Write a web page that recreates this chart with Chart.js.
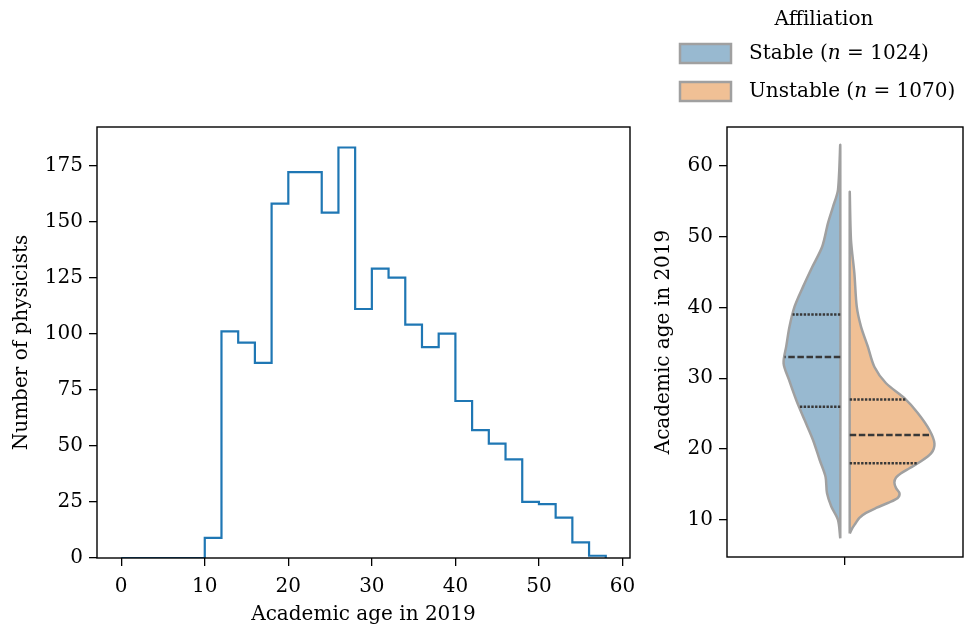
<!DOCTYPE html>
<html>
<head>
<meta charset="utf-8">
<script src="https://cdn.jsdelivr.net/npm/chart.js@4.4.1/dist/chart.umd.min.js"></script>
<style>
  body { margin: 0; background: #fff; }
  #wrap { position: relative; width: 966px; height: 629px; }
  canvas { position: absolute; top: 0; }
  #hist { left: 0; }
  #violin { left: 640px; }
</style>
</head>
<body>
<div id="wrap">
  <canvas id="hist" width="670" height="629"></canvas>
  <canvas id="violin" width="326" height="629"></canvas>
</div>
<script>
// histogram: academic age in 2019, bins of 2 years
const binEdges = [0, 2, 4, 6, 8, 10, 12, 14, 16, 18, 20, 22, 24, 26, 28, 30,
                  32, 34, 36, 38, 40, 42, 44, 46, 48, 50, 52, 54, 56, 58];
const binCounts = [0, 0, 0, 0, 0, 9, 101, 96, 87, 158, 172, 172, 154, 183, 111,
                   129, 125, 104, 94, 100, 70, 57, 51, 44, 25, 24, 18, 7, 1];
const histXTicks = [0, 10, 20, 30, 40, 50, 60];
const histYTicks = [0, 25, 50, 75, 100, 125, 150, 175];

// split violin (relative density, 1 = widest point of the plot)
const groupNames = ['Stable', 'Unstable'];
const groupSizes = [1024, 1070];
const stableAges = [7.4, 10.0, 11.9, 13.8, 16.1, 18.5, 21.3, 24.1, 26.9, 29.8, 32.1,
                    34.5, 37.3, 40.1, 42.9, 45.7, 48.6, 51.9, 54.2, 56.6, 62.7];
const stableDensity = [0, 0.027, 0.106, 0.157, 0.174, 0.244, 0.322, 0.421, 0.519, 0.606, 0.669,
                       0.638, 0.599, 0.540, 0.440, 0.331, 0.213, 0.145, 0.086, 0.027, 0];
const unstableAges = [8.1, 8.8, 9.5, 10.3, 11.0, 11.7, 12.4, 13.1, 13.8, 14.5, 15.3, 16.0,
                      16.6, 17.3, 18.0, 19.4, 20.8, 22.7, 25.1, 27.2, 29.3, 31.6, 34.5,
                      37.3, 40.1, 44.8, 49.5, 56.1];
const unstableDensity = [0, 0.028, 0.067, 0.114, 0.192, 0.311, 0.449, 0.567, 0.587, 0.547, 0.527, 0.547,
                         0.606, 0.705, 0.803, 0.960, 1.0, 0.941, 0.803, 0.646, 0.429, 0.292, 0.213,
                         0.133, 0.083, 0.055, 0.015, 0];
const stableQuartiles = [26, 33, 39];
const unstableQuartiles = [18, 22, 27];
const violinYTicks = [10, 20, 30, 40, 50, 60];

const fillColors = ['#98b9d0', '#f0c095'];
const outlineColor = '#a0a0a0';
const innerColor = '#383838';
const maxHalfWidth = 0.359;
const halfGap = 0.02;

Chart.defaults.font.family = '"DejaVu Serif", serif';
Chart.defaults.font.size = 20;
Chart.defaults.color = '#000';

const framePlugin = {
    id: 'frame',
    afterDraw(chart) {
        const { ctx, chartArea: a } = chart;
        ctx.save();
        ctx.strokeStyle = '#000';
        ctx.lineWidth = 1.4;
        ctx.strokeRect(a.left, a.top, a.right - a.left, a.bottom - a.top);
        ctx.restore();
    }
};

function axisStyle(extra) {
    return Object.assign({
        type: 'linear',
        border: { display: false },
        grid: { drawOnChartArea: false, drawTicks: true, tickLength: 8, color: '#000', lineWidth: 1.3 },
        ticks: { padding: 6, color: '#000', includeBounds: false }
    }, extra);
}

// ---- histogram ----
const histPoints = binCounts.map((c, i) => ({ x: binEdges[i], y: c }));
histPoints.push({ x: binEdges[binEdges.length - 1], y: 0 });

new Chart(document.getElementById('hist'), {
    type: 'line',
    data: {
        datasets: [{
            data: histPoints,
            stepped: 'before',
            borderColor: '#1f77b4',
            borderWidth: 2.2,
            pointRadius: 0,
            fill: false
        }]
    },
    options: {
        responsive: false,
        animation: false,
        devicePixelRatio: 1,
        layout: { padding: { top: 127, right: 40, bottom: 0, left: 0 } },
        plugins: { legend: { display: false }, tooltip: { enabled: false } },
        scales: {
            x: axisStyle({
                min: -2.9, max: 60.9,
                afterBuildTicks: s => { s.ticks = histXTicks.map(v => ({ value: v })); },
                ticks: { padding: 9, color: '#000', includeBounds: false },
                afterFit: s => { s.height = 71; },
                title: { display: true, text: 'Academic age in 2019', padding: { top: 0, bottom: 2 } }
            }),
            y: axisStyle({
                min: 0, max: 192.15,
                afterBuildTicks: s => { s.ticks = histYTicks.map(v => ({ value: v })); },
                afterFit: s => { s.width = 97; },
                title: { display: true, text: 'Number of physicists', padding: { top: 10, bottom: 0 } }
            })
        }
    },
    plugins: [framePlugin]
});

// ---- split violin ----
function widthAt(ages, dens, q) {
    for (let i = 1; i < ages.length; i++) {
        if (q <= ages[i]) {
            const t = (q - ages[i - 1]) / (ages[i] - ages[i - 1]);
            return dens[i - 1] + t * (dens[i] - dens[i - 1]);
        }
    }
    return 0;
}

function violinSets(ages, dens, quartiles, side, color) {
    const c = side * halfGap;
    const outline = ages.map((a, i) => ({ x: c + side * dens[i] * maxHalfWidth, y: a }));
    outline.push({ x: c, y: ages[0] });
    const sets = [{
        data: outline,
        borderColor: outlineColor,
        backgroundColor: color,
        borderWidth: 2.5,
        pointRadius: 0,
        tension: 0.3,
        fill: 'shape',
        order: 2
    }];
    quartiles.forEach((q, k) => {
        sets.push({
            data: [{ x: c, y: q }, { x: c + side * widthAt(ages, dens, q) * maxHalfWidth, y: q }],
            borderColor: innerColor,
            borderWidth: 2.5,
            borderDash: k === 1 ? [6.5, 2.6] : [2.4, 1.4],
            pointRadius: 0,
            fill: false,
            order: 1
        });
    });
    return sets;
}

const legendPlugin = {
    id: 'affiliationLegend',
    afterDraw(chart) {
        const ctx = chart.ctx;
        const normal = '20px "DejaVu Serif", serif';
        const italic = 'italic 20px "DejaVu Serif", serif';
        ctx.save();
        ctx.textBaseline = 'middle';
        ctx.fillStyle = '#000';
        ctx.font = normal;
        ctx.textAlign = 'center';
        ctx.fillText('Affiliation', 184, 20);
        ctx.textAlign = 'left';
        groupNames.forEach((name, i) => {
            const y = 44 + i * 38;
            ctx.fillStyle = fillColors[i];
            ctx.fillRect(40, y, 51, 19);
            ctx.strokeStyle = outlineColor;
            ctx.lineWidth = 2.5;
            ctx.strokeRect(40, y, 51, 19);
            const parts = [[name + ' (', normal], ['n', italic], [' = ' + groupSizes[i] + ')', normal]];
            let x = 109;
            ctx.fillStyle = '#000';
            parts.forEach(([txt, f]) => {
                ctx.font = f;
                ctx.fillText(txt, x, y + 10);
                x += ctx.measureText(txt).width;
            });
        });
        ctx.restore();
    }
};

new Chart(document.getElementById('violin'), {
    type: 'line',
    data: {
        datasets: [
            ...violinSets(stableAges, stableDensity, stableQuartiles, -1, fillColors[0]),
            ...violinSets(unstableAges, unstableDensity, unstableQuartiles, 1, fillColors[1])
        ]
    },
    options: {
        responsive: false,
        animation: false,
        devicePixelRatio: 1,
        layout: { padding: { top: 127, right: 3, bottom: 0, left: 0 } },
        plugins: { legend: { display: false }, tooltip: { enabled: false } },
        scales: {
            x: axisStyle({
                min: -0.5, max: 0.5,
                afterBuildTicks: s => { s.ticks = [{ value: 0 }]; },
                ticks: { display: false },
                afterFit: s => { s.height = 72; }
            }),
            y: axisStyle({
                min: 4.78, max: 65.46,
                afterBuildTicks: s => { s.ticks = violinYTicks.map(v => ({ value: v })); },
                afterFit: s => { s.width = 87; },
                title: { display: true, text: 'Academic age in 2019', padding: { top: 12, bottom: 0 } }
            })
        }
    },
    plugins: [framePlugin, legendPlugin]
});
</script>
</body>
</html>
